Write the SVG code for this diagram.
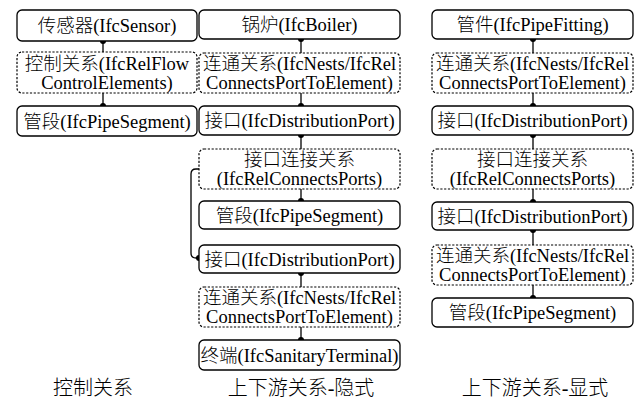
<svg xmlns="http://www.w3.org/2000/svg" width="644" height="401" viewBox="0 0 644 401">
<style>
.s{fill:#fff;stroke:#000;stroke-width:1.3}
.d{fill:#fff;stroke:#000;stroke-width:1.2;stroke-dasharray:2.2 1.6}
text{font-family:'Liberation Serif','Noto Sans CJK SC',serif;font-size:18.5px;font-weight:300;fill:#000;text-anchor:middle}
.lb{font-size:20px}
.c line,.c path{stroke:#000;stroke-width:1.3;fill:none}
.c circle{fill:#000}
</style>
<g class="c" id="connectors">
<line x1="103" y1="41" x2="103" y2="52"/><circle cx="103" cy="41" r="3"/>
<line x1="103" y1="93" x2="103" y2="106"/><circle cx="103" cy="106" r="3"/>
<line x1="301" y1="39" x2="301" y2="53"/><circle cx="301" cy="39" r="3"/>
<line x1="301" y1="93" x2="301" y2="106"/><circle cx="301" cy="106" r="3"/>
<line x1="301" y1="135" x2="301" y2="149"/><circle cx="301" cy="135" r="3"/>
<line x1="301" y1="189" x2="301" y2="201"/><circle cx="301" cy="201" r="3"/>
<line x1="301" y1="273" x2="301" y2="287"/><circle cx="301" cy="273" r="3"/>
<line x1="301" y1="327" x2="301" y2="340"/><circle cx="301" cy="340" r="3"/>
<path d="M199 169 H196 Q191 169 191 174 V253 Q191 258 196 258 H199"/><circle cx="199" cy="258" r="3"/>
<line x1="533" y1="39" x2="533" y2="53"/><circle cx="533" cy="39" r="3"/>
<line x1="533" y1="93" x2="533" y2="106"/><circle cx="533" cy="106" r="3"/>
<line x1="533" y1="135" x2="533" y2="149"/><circle cx="533" cy="135" r="3"/>
<line x1="533" y1="189" x2="533" y2="202"/><circle cx="533" cy="202" r="3"/>
<line x1="533" y1="230" x2="533" y2="245"/><circle cx="533" cy="230" r="3"/>
<line x1="533" y1="285" x2="533" y2="298"/><circle cx="533" cy="298" r="3"/>
</g>
<g id="c1n1"><rect class="s" x="17" y="10" width="180" height="31" rx="5"/><text x="107" y="32">传感器(IfcSensor)</text></g>
<g id="c1n2"><rect class="d" x="17" y="52" width="180" height="41" rx="5"/><text x="107" y="70">控制关系(IfcRelFlow</text><text x="107" y="89">ControlElements)</text></g>
<g id="c1n3"><rect class="s" x="17" y="106" width="180" height="30" rx="5"/><text x="107" y="127.5">管段(IfcPipeSegment)</text></g>

<g id="c2n1"><rect class="s" x="199" y="10" width="201" height="29" rx="5"/><text x="299.5" y="31">锅炉(IfcBoiler)</text></g>
<g id="c2n2"><rect class="d" x="199" y="53" width="201" height="40" rx="5"/><text x="299.5" y="70">连通关系(IfcNests/IfcRel</text><text x="299.5" y="88.5">ConnectsPortToElement)</text></g>
<g id="c2n3"><rect class="s" x="199" y="106" width="201" height="29" rx="5"/><text x="299.5" y="127">接口(IfcDistributionPort)</text></g>
<g id="c2n4"><rect class="d" x="199" y="149" width="201" height="40" rx="5"/><text x="299.5" y="166">接口连接关系</text><text x="299.5" y="184.5">(IfcRelConnectsPorts)</text></g>
<g id="c2n5"><rect class="s" x="199" y="201" width="201" height="28" rx="5"/><text x="299.5" y="221.5">管段(IfcPipeSegment)</text></g>
<g id="c2n6"><rect class="s" x="199" y="245" width="201" height="28" rx="5"/><text x="299.5" y="265.5">接口(IfcDistributionPort)</text></g>
<g id="c2n7"><rect class="d" x="199" y="287" width="201" height="40" rx="5"/><text x="299.5" y="304">连通关系(IfcNests/IfcRel</text><text x="299.5" y="322.5">ConnectsPortToElement)</text></g>
<g id="c2n8"><rect class="s" x="199" y="340" width="201" height="30" rx="5"/><text x="299.5" y="361.5">终端(IfcSanitaryTerminal)</text></g>

<g id="c3n1"><rect class="s" x="432" y="10" width="201" height="29" rx="5"/><text x="532.5" y="31">管件(IfcPipeFitting)</text></g>
<g id="c3n2"><rect class="d" x="432" y="53" width="201" height="40" rx="5"/><text x="532.5" y="70">连通关系(IfcNests/IfcRel</text><text x="532.5" y="88.5">ConnectsPortToElement)</text></g>
<g id="c3n3"><rect class="s" x="432" y="106" width="201" height="29" rx="5"/><text x="532.5" y="127">接口(IfcDistributionPort)</text></g>
<g id="c3n4"><rect class="d" x="432" y="149" width="201" height="40" rx="5"/><text x="532.5" y="166">接口连接关系</text><text x="532.5" y="184.5">(IfcRelConnectsPorts)</text></g>
<g id="c3n5"><rect class="s" x="432" y="202" width="201" height="28" rx="5"/><text x="532.5" y="222.5">接口(IfcDistributionPort)</text></g>
<g id="c3n6"><rect class="d" x="432" y="245" width="201" height="40" rx="5"/><text x="532.5" y="262">连通关系(IfcNests/IfcRel</text><text x="532.5" y="280.5">ConnectsPortToElement)</text></g>
<g id="c3n7"><rect class="s" x="432" y="298" width="201" height="29" rx="5"/><text x="532.5" y="319">管段(IfcPipeSegment)</text></g>

<g id="labels">
<text class="lb" x="93" y="395">控制关系</text>
<text class="lb" x="301" y="395">上下游关系-隐式</text>
<text class="lb" x="535" y="395">上下游关系-显式</text>
</g>
</svg>
